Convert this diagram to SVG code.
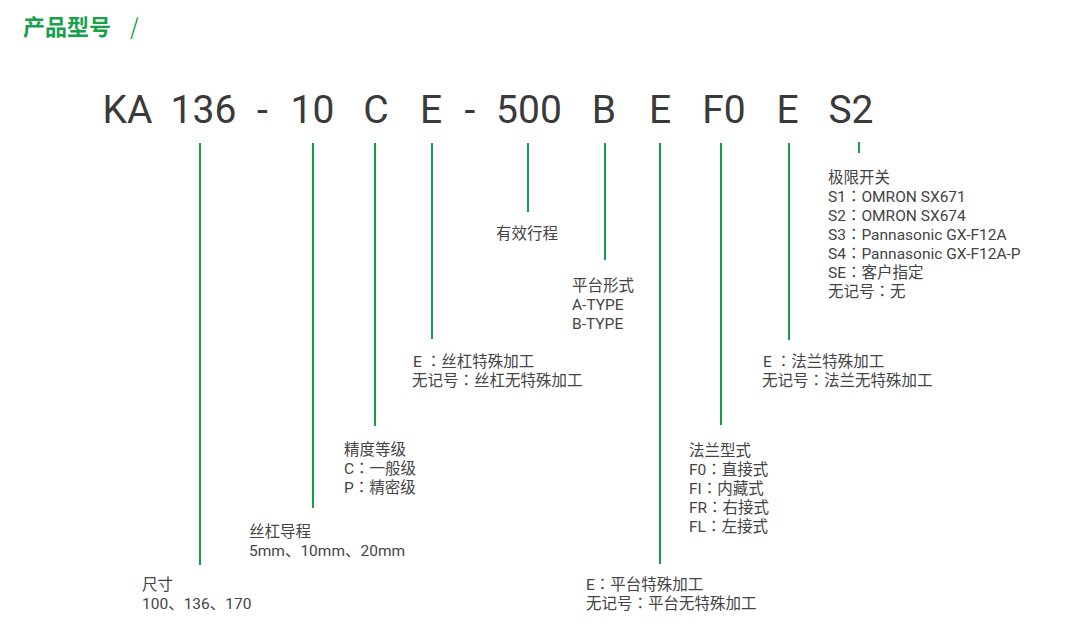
<svg xmlns="http://www.w3.org/2000/svg" width="1065" height="637" viewBox="0 0 1065 637">
<style>
.title{font-family:"Noto Sans CJK SC","Noto Sans",sans-serif;font-size:22px;font-weight:bold;fill:#16a04a}
.code{font-family:Roboto,"Liberation Sans",sans-serif;font-size:39px;fill:#3a3a3a;text-anchor:middle}
.lbl{font-family:Roboto,"Noto Sans CJK SC",sans-serif;font-size:15.5px;fill:#444}
.tc{font-family:Roboto,"Noto Sans CJK TC",sans-serif}
.ln{stroke:#14a047;stroke-width:2;fill:none}
</style>
<rect width="1065" height="637" fill="#fff"/>
<g id="title"><text class="title" x="23" y="35">产品型号</text><text class="title" x="130" y="35" style="font-weight:normal">/</text></g>
<g id="code">
<text class="code" x="127.5" y="123">KA</text>
<text class="code" x="203.5" y="123">136</text>
<text class="code" x="262.5" y="123">-</text>
<text class="code" x="312.5" y="123">10</text>
<text class="code" x="376" y="123">C</text>
<text class="code" x="431" y="123">E</text>
<text class="code" x="470" y="123">-</text>
<text class="code" x="529" y="123">500</text>
<text class="code" x="604" y="123">B</text>
<text class="code" x="660" y="123">E</text>
<text class="code" x="724" y="123">F0</text>
<text class="code" x="787.5" y="123">E</text>
<text class="code" x="851" y="123">S2</text>
</g>
<g id="connectors">
<line class="ln" x1="200" y1="143" x2="200" y2="565"/>
<line class="ln" x1="313" y1="143" x2="313" y2="508"/>
<line class="ln" x1="375" y1="143" x2="375" y2="426"/>
<line class="ln" x1="432" y1="143" x2="432" y2="339"/>
<line class="ln" x1="528" y1="143" x2="528" y2="212"/>
<line class="ln" x1="605" y1="143" x2="605" y2="260"/>
<line class="ln" x1="660" y1="143" x2="660" y2="564"/>
<line class="ln" x1="721" y1="143" x2="721" y2="425"/>
<line class="ln" x1="789" y1="143" x2="789" y2="340"/>
<line class="ln" x1="859" y1="142" x2="859" y2="153"/>
</g>
<g id="size"><text class="lbl" x="142" y="590">尺寸</text><text class="lbl" x="142" y="609">100、136、170</text></g>
<g id="lead"><text class="lbl" x="249" y="537">丝杠导程</text><text class="lbl" x="249" y="556">5mm、10mm、20mm</text></g>
<g id="precision"><text class="lbl" x="344" y="455">精度等级</text><text class="lbl tc" x="344" y="474">C：一般级</text><text class="lbl tc" x="344" y="493">P：精密级</text></g>
<g id="screw"><text class="lbl tc" x="413" y="367">E ：丝杠特殊加工</text><text class="lbl tc" x="412" y="386">无记号：丝杠无特殊加工</text></g>
<g id="stroke"><text class="lbl" x="496" y="239">有效行程</text></g>
<g id="platform"><text class="lbl" x="572" y="291">平台形式</text><text class="lbl" x="572" y="310">A-TYPE</text><text class="lbl" x="572" y="329">B-TYPE</text></g>
<g id="platformE"><text class="lbl tc" x="586" y="590">E：平台特殊加工</text><text class="lbl tc" x="586" y="609">无记号：平台无特殊加工</text></g>
<g id="flange"><text class="lbl" x="689" y="456">法兰型式</text><text class="lbl tc" x="689" y="475">F0：直接式</text><text class="lbl tc" x="689" y="494">FI：内藏式</text><text class="lbl tc" x="689" y="513">FR：右接式</text><text class="lbl tc" x="689" y="532">FL：左接式</text></g>
<g id="flangeE"><text class="lbl tc" x="763" y="367">E ：法兰特殊加工</text><text class="lbl tc" x="762" y="386">无记号：法兰无特殊加工</text></g>
<g id="limit"><text class="lbl" x="828" y="183">极限开关</text><text class="lbl tc" x="828" y="202">S1：OMRON SX671</text><text class="lbl tc" x="828" y="221">S2：OMRON SX674</text><text class="lbl tc" x="828" y="240">S3：Pannasonic GX-F12A</text><text class="lbl tc" x="828" y="259">S4：Pannasonic GX-F12A-P</text><text class="lbl tc" x="828" y="278">SE：客户指定</text><text class="lbl tc" x="828" y="297">无记号：无</text></g>
</svg>
